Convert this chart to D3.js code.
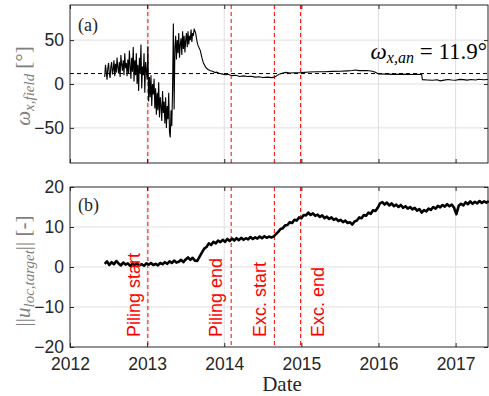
<!DOCTYPE html>
<html>
<head>
<meta charset="utf-8">
<script src="https://cdn.jsdelivr.net/npm/d3@7"></script>
<style>
body { margin: 0; background: #fff; }
</style>
</head>
<body>
<div id="chart"></div>
<script>
// ---- data ----
var yearTicks = [2012, 2013, 2014, 2015, 2016, 2017];
var fieldTicks = [-50, 0, 50];
var locTicks = [-20, -10, 0, 10, 20];

// panel (a): noisy part sampled every 0.01 yr from 2012.45
var fieldStart = 2012.45, fieldStep = 0.01;
var fieldNoisy = [
  8, 22, 14, 5, 18, 24, 12, 7, 20, 25, 11, 16, 27, 9, 23, 13,
  30, 19, 12, 25, 8, 33, 22, 15, 27, 10, 35, 18, 24, 9, 28,
  12, 38, 20, 6, 30, 14, 42, 3, 27, 10, 35, 0,
  22, -8, 30, 12, 45, -5, 20, 10, 35, -10, 25, 15,
  5, 43, -20, 8, -15, 10, -25, 0, -12, 6, -28,
  -5, -35, -10, -30, 2, -38, -15, -25, -42, -8, -33, -20,
  -45, -15, -50, -25, -40, -10, -55, -61, -30, -48, -5,
  69, -29, 40,
  55, 28, 50, 35, 58, 30, 45, 52, 33, 60, 40, 55, 36, 50, 58, 42, 60, 45, 55, 50, 62, 48, 58, 55, 63, 60,
  58, 52, 47
];
// panel (a): smooth part [year, value]
var fieldSmooth = [
  [2013.66, 44], [2013.69, 38], [2013.71, 30], [2013.73, 24], [2013.76, 19], [2013.79, 16.5],
  [2013.82, 15], [2013.85, 14.5], [2013.88, 13], [2013.9, 13.5], [2013.94, 12], [2013.97, 11.5],
  [2014.01, 10.5], [2014.05, 11], [2014.1, 9.5], [2014.15, 10], [2014.2, 8.5], [2014.25, 9.2],
  [2014.3, 8.6], [2014.35, 8.9], [2014.4, 7.8], [2014.45, 8.2], [2014.5, 7.4], [2014.56, 7.8],
  [2014.62, 7.3], [2014.66, 8.2], [2014.72, 11.5], [2014.76, 12.6], [2014.8, 13.2], [2014.85, 12.5],
  [2014.9, 12.8], [2015.0, 13], [2015.1, 13.6], [2015.2, 14], [2015.3, 13.9], [2015.4, 14.4],
  [2015.5, 14.6], [2015.6, 15], [2015.66, 15.3], [2015.7, 16], [2015.75, 15.2], [2015.85, 15.4],
  [2015.92, 14.6], [2015.96, 13.4], [2016.0, 11.4], [2016.1, 11.2], [2016.2, 11], [2016.3, 11.3],
  [2016.4, 10.8], [2016.5, 11], [2016.56, 10.8], [2016.57, 5], [2016.63, 4.6], [2016.7, 4.2],
  [2016.76, 4.8], [2016.8, 3.6], [2016.85, 4.4], [2016.9, 5.2], [2016.95, 4.6], [2017.0, 4.2],
  [2017.05, 5.3], [2017.1, 5], [2017.15, 4.4], [2017.2, 5.2], [2017.26, 4.6], [2017.3, 5.4],
  [2017.36, 4.9], [2017.42, 5.1]
];
var omegaAn = 11.9;

// panel (b): ||u_loc,target||, sampled every 0.03 yr from 2012.45
var locStart = 2012.45, locStep = 0.03;
var locTarget = [
  0.8, 1.4, 0.5, 1.2, 0.7, 1.5,
  0.9, 0.4, 1.1, 0.6, 0.9, 0.3, 0.8, 0.5, 0.9, 0.4,
  0.7, 0.3, 0.9, 0.6, 1.0, 0.5, 0.8, 0.4, 1.0, 0.7,
  1.2, 0.8, 1.4, 1.0, 1.6, 1.1, 1.3, 1.8, 1.2, 1.9,
  2.4, 1.8, 2.3, 1.6, 1.5,
  2.6, 3.6, 4.6, 5.0, 5.9, 5.5, 6.3, 5.9, 6.6, 6.2,
  6.8, 6.3, 7.0, 6.5, 7.1, 6.6, 7.2, 6.7, 7.3, 6.8,
  7.2, 6.9, 7.5, 7.0, 7.4, 7.1, 7.6, 7.2, 7.7, 7.3,
  7.6, 7.4, 7.6,
  8.2, 8.8, 9.5, 9.7, 10.4, 10.5, 11.2, 11.0, 11.8, 11.6,
  12.4, 12.2, 13.0, 12.9, 13.6, 13.0, 13.4, 12.8, 13.1, 12.5,
  12.9, 12.2, 12.6, 12.0, 12.4, 11.8, 12.1, 11.5, 11.8, 11.2,
  11.6, 11.0, 11.2, 10.6, 11.4, 11.6, 12.4, 12.2, 13.0, 12.8,
  13.6, 13.3, 14.2, 14.0, 14.8, 15.9, 16.2, 15.6, 16.1, 15.4,
  15.9, 15.2, 15.6, 15.0, 15.5, 14.8, 15.2, 14.6, 15.0, 14.4,
  14.8, 14.1, 14.5, 13.6, 14.2, 13.9, 14.6, 14.3, 15.0, 14.6,
  15.3, 14.9, 15.5, 15.1, 15.7, 15.2, 15.6, 14.8, 13.2, 15.3,
  15.8, 15.4, 16.2, 15.7, 16.4, 15.8, 16.3, 15.9, 16.5, 16.0,
  16.4, 16.1, 16.5
];

// construction events
var eventYears = [2013.01, 2014.09, 2014.65, 2014.99];
var eventNames = ["Piling start", "Piling end", "Exc. start", "Exc. end"];

// ---- layout ----
var svgWidth = 489, svgHeight = 396;
var margin = {left: 70};
var chartWidth = 418;
var panelA = {top: 5, height: 158};
var panelB = {top: 187, height: 160};
var axisColor = "#262626";
var gridColor = "#dfdfdf";
var sansFont = "'Liberation Sans', Arial, Helvetica, sans-serif";
var serifFont = "'Liberation Serif', 'Times New Roman', serif";

var svg = d3.select("#chart")
  .append("svg")
  .attr("width", svgWidth)
  .attr("height", svgHeight);

var x = d3.scaleLinear()
  .domain([2012, 2017.42])
  .range([0, chartWidth]);

var yA = d3.scaleLinear().domain([-90, 90]).range([panelA.height, 0]);
var yB = d3.scaleLinear().domain([-20, 20]).range([panelB.height, 0]);

var gA = svg.append("g").attr("transform", `translate(${margin.left}, ${panelA.top})`);
var gB = svg.append("g").attr("transform", `translate(${margin.left}, ${panelB.top})`);

// grid lines for one panel
function drawGrid(g, y, yTicks, h) {
  g.append("g").selectAll("line")
    .data(yearTicks.filter(d => d > x.domain()[0]))
    .enter().append("line")
    .attr("x1", d => x(d)).attr("x2", d => x(d))
    .attr("y1", 0).attr("y2", h)
    .style("stroke", gridColor).style("stroke-width", 1);
  g.append("g").selectAll("line")
    .data(yTicks.filter(d => d > y.domain()[0] && d < y.domain()[1]))
    .enter().append("line")
    .attr("x1", 0).attr("x2", chartWidth)
    .attr("y1", d => y(d)).attr("y2", d => y(d))
    .style("stroke", gridColor).style("stroke-width", 1);
}

// red dashed event lines
function drawEvents(g, h) {
  g.append("g").selectAll("line")
    .data(eventYears)
    .enter().append("line")
    .attr("x1", d => x(d)).attr("x2", d => x(d))
    .attr("y1", 0).attr("y2", h)
    .style("stroke", "#ff0000")
    .style("stroke-width", 1)
    .style("stroke-dasharray", "4,3");
}

// box + inward ticks on all four sides
function drawAxes(g, y, yTicks, h, showX) {
  var bottom = d3.axisBottom(x).tickValues(yearTicks).tickSize(-4).tickPadding(11)
    .tickFormat(showX ? d3.format("d") : "");
  var top = d3.axisTop(x).tickValues(yearTicks).tickSize(-4).tickFormat("");
  var left = d3.axisLeft(y).tickValues(yTicks).tickSize(-4).tickPadding(6);
  var right = d3.axisRight(y).tickValues(yTicks).tickSize(-4).tickFormat("");

  var axes = [
    g.append("g").attr("transform", `translate(0, ${h})`).call(bottom),
    g.append("g").call(top),
    g.append("g").call(left),
    g.append("g").attr("transform", `translate(${chartWidth}, 0)`).call(right)
  ];
  axes.forEach(function(a) {
    a.select(".domain").remove();
    a.selectAll(".tick line").style("stroke", axisColor);
    a.selectAll("text")
      .style("font-family", sansFont)
      .style("font-size", "17.5px")
      .style("fill", axisColor);
  });
  g.append("rect")
    .attr("x", 0).attr("y", 0)
    .attr("width", chartWidth).attr("height", h)
    .style("fill", "none")
    .style("stroke", axisColor)
    .style("stroke-width", 1);
}

// ---- panel (a) ----
drawGrid(gA, yA, fieldTicks, panelA.height);
drawEvents(gA, panelA.height);

var fieldSeries = fieldNoisy.map((v, i) => [fieldStart + i * fieldStep, v]).concat(fieldSmooth);

gA.append("line")
  .attr("x1", 0).attr("x2", chartWidth)
  .attr("y1", yA(omegaAn)).attr("y2", yA(omegaAn))
  .style("stroke", "black")
  .style("stroke-width", 1)
  .style("stroke-dasharray", "4,3");

gA.append("path")
  .datum(fieldSeries)
  .attr("d", d3.line().x(d => x(d[0])).y(d => yA(d[1])))
  .style("fill", "none")
  .style("stroke", "black")
  .style("stroke-width", 1.1);

drawAxes(gA, yA, fieldTicks, panelA.height, false);

var anText = gA.append("text")
  .attr("x", chartWidth - 1)
  .attr("y", 54)
  .attr("text-anchor", "end")
  .style("font-family", serifFont)
  .style("font-size", "23px")
  .style("fill", "black");
anText.append("tspan").style("font-style", "italic").text("ω");
anText.append("tspan").style("font-style", "italic").style("font-size", "16px")
  .attr("baseline-shift", "-4").text("x,an");
anText.append("tspan").text(" = " + omegaAn + "°");

gA.append("text")
  .attr("x", 8).attr("y", 26)
  .style("font-family", serifFont)
  .style("font-size", "18px")
  .style("fill", axisColor)
  .text("(a)");

// y label (a)
var labA = svg.append("text")
  .attr("transform", `translate(30, 86) rotate(-90)`)
  .attr("text-anchor", "middle")
  .style("font-family", serifFont)
  .style("font-size", "21px")
  .style("fill", "#7f7f7f");
labA.append("tspan").style("font-style", "italic").text("ω");
labA.append("tspan").style("font-style", "italic").style("font-size", "15px")
  .attr("baseline-shift", "-4").text("x,field");
labA.append("tspan").text(" [°]");

// ---- panel (b) ----
drawGrid(gB, yB, locTicks, panelB.height);
drawEvents(gB, panelB.height);

var locSeries = locTarget.map((v, i) => [locStart + i * locStep, v]);

gB.append("path")
  .datum(locSeries)
  .attr("d", d3.line().x(d => x(d[0])).y(d => yB(d[1])))
  .style("fill", "none")
  .style("stroke", "black")
  .style("stroke-width", 2.6)
  .style("stroke-linejoin", "round");

drawAxes(gB, yB, locTicks, panelB.height, true);

// event labels, rotated
var labelOffsets = [-8, -9, -8, 23];
gB.append("g").selectAll("text")
  .data(eventYears)
  .enter().append("text")
  .attr("transform", (d, i) => `translate(${x(d) + labelOffsets[i]}, ${panelB.height - 10}) rotate(-90)`)
  .style("font-family", sansFont)
  .style("font-size", "18px")
  .style("fill", "#ff0000")
  .text((d, i) => eventNames[i]);

gB.append("text")
  .attr("x", 8).attr("y", 24)
  .style("font-family", serifFont)
  .style("font-size", "18px")
  .style("fill", axisColor)
  .text("(b)");

var labB = svg.append("text")
  .attr("transform", `translate(30, 271) rotate(-90)`)
  .attr("text-anchor", "middle")
  .style("font-family", serifFont)
  .style("font-size", "21px")
  .style("fill", "#7f7f7f");
labB.append("tspan").text("||");
labB.append("tspan").style("font-style", "italic").text("u");
labB.append("tspan").style("font-style", "italic").style("font-size", "15px")
  .attr("baseline-shift", "-4").text("loc,target");
labB.append("tspan").text("|| [-]");

// x label
svg.append("text")
  .attr("x", margin.left + chartWidth / 2 + 3)
  .attr("y", 391)
  .attr("text-anchor", "middle")
  .style("font-family", serifFont)
  .style("font-size", "21px")
  .style("fill", axisColor)
  .text("Date");
</script>
</body>
</html>
